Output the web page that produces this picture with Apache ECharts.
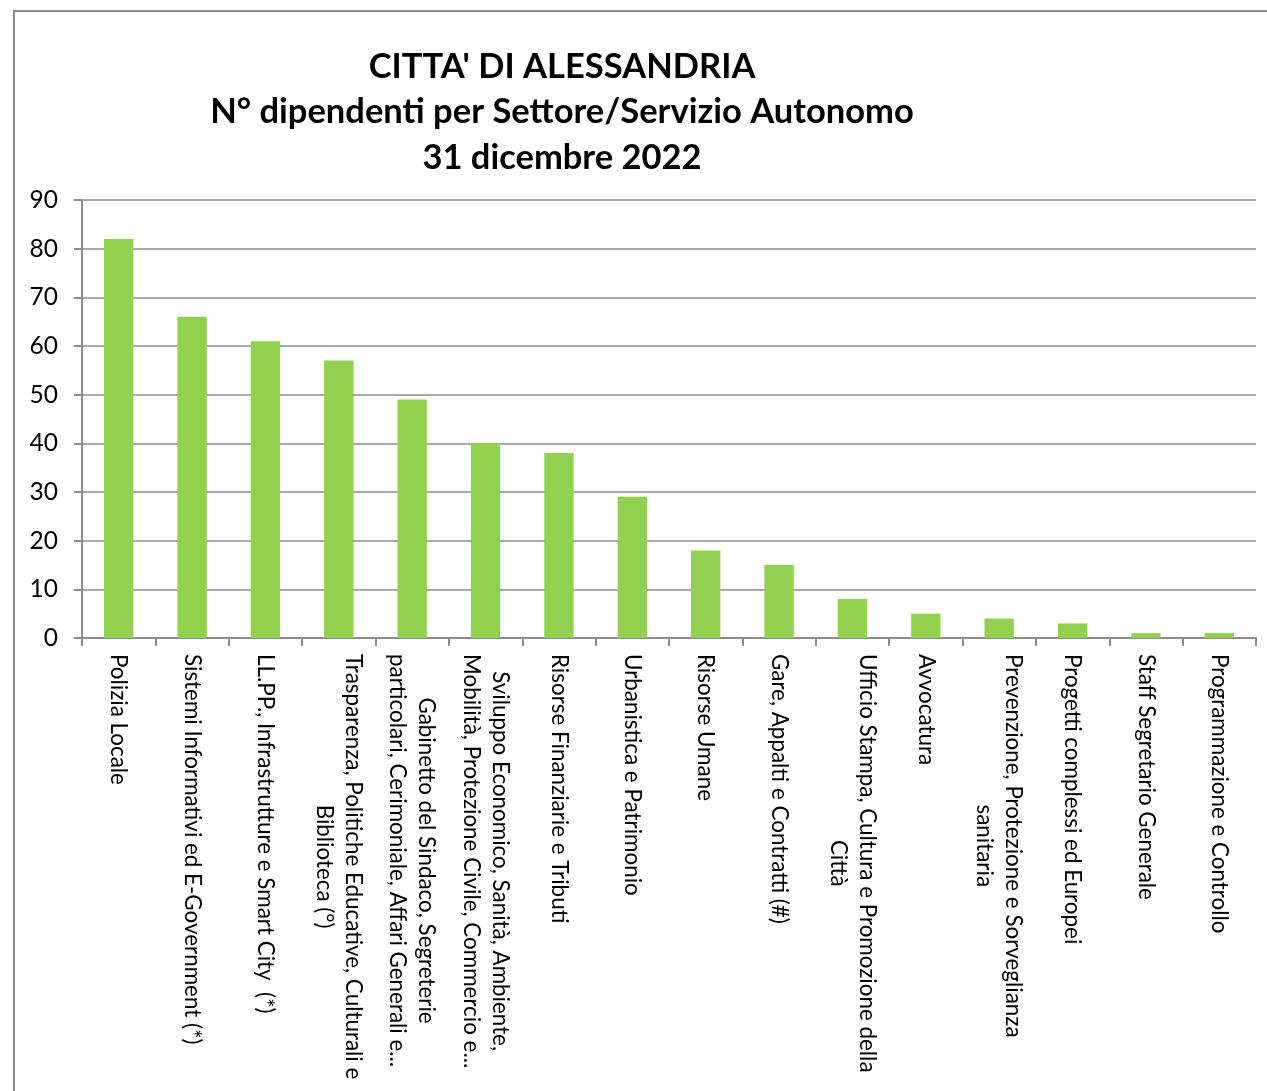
<!DOCTYPE html>
<html>
<head>
<meta charset="utf-8">
<script src="https://cdn.jsdelivr.net/npm/echarts@6/dist/echarts.min.js"></script>
<style>
html,body{margin:0;padding:0;background:#fff;overflow:hidden;}
#frame{position:absolute;left:13px;top:10px;width:1300px;height:1120px;border-left:2px solid #8c8c8c;border-top:2px solid #8c8c8c;}
#chart{position:absolute;left:0;top:0;width:1267px;height:1091px;}
</style>
</head>
<body>
<div id="frame"></div>
<div id="chart"></div>
<script>
const titleLines = ["CITTA' DI ALESSANDRIA", "N° dipendenti per Settore/Servizio Autonomo", "31 dicembre 2022"];
const categories = [
  "Polizia Locale",
  "Sistemi Informativi ed E-Government (*)",
  "LL.PP., Infrastrutture e Smart City  (*)",
  "Trasparenza, Politiche Educative, Culturali e\nBiblioteca (°)",
  "Gabinetto del Sindaco, Segreterie\nparticolari, Cerimoniale, Affari Generali e...",
  "Sviluppo Economico, Sanità, Ambiente,\nMobilità, Protezione Civile, Commercio e...",
  "Risorse Finanziarie e Tributi",
  "Urbanistica e Patrimonio",
  "Risorse Umane",
  "Gare, Appalti e Contratti (#)",
  "Ufficio Stampa, Cultura e Promozione della\nCittà",
  "Avvocatura",
  "Prevenzione, Protezione e Sorveglianza\nsanitaria",
  "Progetti complessi ed Europei",
  "Staff Segretario Generale",
  "Programmazione e Controllo"
];
const values = [82, 66, 61, 57, 49, 40, 38, 29, 18, 15, 8, 5, 4, 3, 1, 1];
const yMin = 0, yMax = 90, yStep = 10;

const FONT = 'Lato';
const chart = echarts.init(document.getElementById('chart'), null, {renderer: 'canvas'});
chart.setOption({
  animation: false,
  backgroundColor: 'transparent',
  title: {
    text: titleLines.join('\n'),
    left: 557,
    top: 39,
    textAlign: 'center',
    textStyle: {fontFamily: FONT, fontWeight: 'bold', fontSize: 34.5, lineHeight: 45.5, color: '#000'}
  },
  grid: {left: 82, right: 11, top: 200, bottom: 453, containLabel: false},
  xAxis: {
    type: 'category',
    data: categories,
    axisLine: {lineStyle: {color: '#8c8c8c', width: 2}},
    axisTick: {show: true, interval: 0, length: 8, lineStyle: {color: '#8c8c8c', width: 2}},
    axisLabel: {
      interval: 0,
      rotate: -90,
      margin: 16,
      formatter: function (v) { return v.split('\n').map(s => '{c|' + s + '}').join('\n'); },
      rich: {c: {align: 'center', fontFamily: FONT, fontSize: 22.4, lineHeight: 29, color: '#000'}}
    }
  },
  yAxis: {
    type: 'value',
    min: yMin, max: yMax, interval: yStep,
    axisLine: {show: true, lineStyle: {color: '#8c8c8c', width: 2}},
    axisTick: {show: true, length: 8, lineStyle: {color: '#8c8c8c', width: 2}},
    splitLine: {show: true, lineStyle: {color: '#8c8c8c', width: 1.5}},
    axisLabel: {fontFamily: FONT, fontSize: 24.5, color: '#000', margin: 24}
  },
  series: [{
    type: 'bar',
    data: values,
    barWidth: '40%',
    itemStyle: {color: '#92D050'}
  }]
});
</script>
</body>
</html>
